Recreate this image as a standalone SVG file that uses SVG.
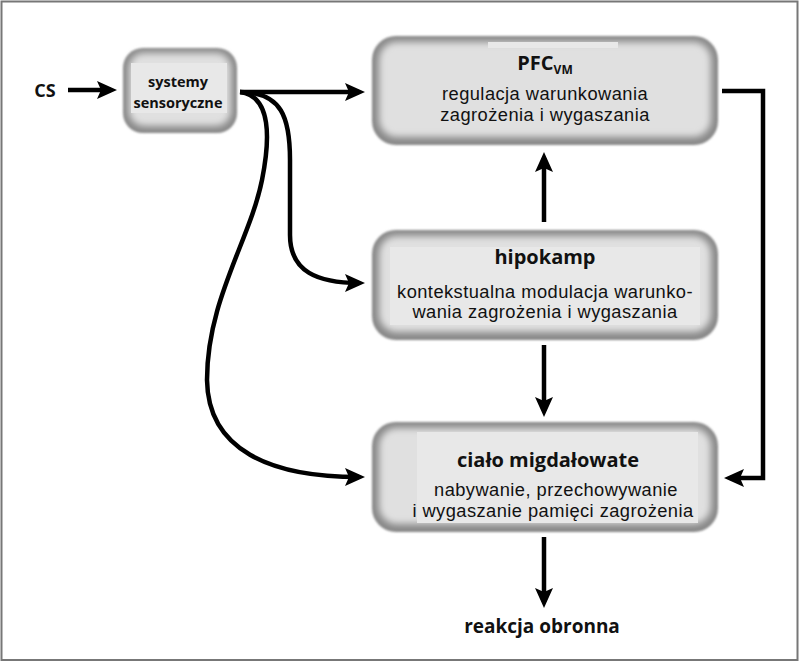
<svg xmlns="http://www.w3.org/2000/svg" width="800" height="663" viewBox="0 0 800 663">
<defs>
<style>
.t{font-family:"Open Sans","Liberation Sans",sans-serif;fill:#111;text-anchor:middle}
.b{font-weight:bold}
.r{font-family:"Liberation Sans",Arial,sans-serif;font-size:18.3px;letter-spacing:0.45px}
.ti{font-size:20px;font-weight:bold}
.ln{fill:none;stroke:#000;stroke-width:4.5;marker-end:url(#ah)}
.edge{fill:#888;filter:url(#soft)}
.core{fill:#e0e0e0;filter:url(#blur)}
.hl{fill:#e8e8e8}
</style>
<filter id="blur" x="-10%" y="-20%" width="120%" height="140%"><feGaussianBlur stdDeviation="3.5"/></filter>
<filter id="soft" x="-10%" y="-20%" width="120%" height="140%"><feGaussianBlur stdDeviation="0.8"/></filter>
<marker id="ah" viewBox="0 0 20 18" refX="14" refY="9" markerWidth="20" markerHeight="18" orient="auto" markerUnits="userSpaceOnUse"><path d="M0,0 L20,9 L0,18 L4,9 z" fill="#000"/></marker>
</defs>
<rect x="0" y="0" width="800" height="663" fill="#fff"/>
<rect x="1.5" y="1.5" width="796" height="658.5" fill="#fff" stroke="#777" stroke-width="2"/>

<g id="cs"><text class="t b" x="45" y="97" font-size="18">CS</text></g>

<g id="sensory">
<rect class="edge" x="123" y="48" width="114" height="85" rx="20"/>
<rect class="core" x="129" y="53" width="102" height="73" rx="15"/>
<rect class="hl" x="131" y="63" width="96" height="50"/>
<text class="t b" x="178" y="87" font-size="14.5">systemy</text>
<text class="t b" x="178" y="108" font-size="14.5">sensoryczne</text>
</g>

<g id="pfc">
<rect class="edge" x="372" y="36" width="346" height="109" rx="24"/>
<rect class="core" x="379" y="42" width="332" height="95" rx="18"/>
<rect class="hl" x="488" y="42" width="130" height="6"/>
<text class="t ti" x="545" y="70">PFC<tspan font-size="12" dy="4">VM</tspan></text>
<text class="t r" x="545" y="100">regulacja warunkowania</text>
<text class="t r" x="545" y="120.5">zagrożenia i wygaszania</text>
</g>

<g id="hipokamp">
<rect class="edge" x="372" y="230" width="346" height="110" rx="24"/>
<rect class="core" x="379" y="236" width="332" height="96" rx="18"/>
<rect class="hl" x="390" y="247" width="310" height="78"/>
<text class="t ti" x="545" y="264">hipokamp</text>
<text class="t r" x="545" y="297.5">kontekstualna modulacja warunko-</text>
<text class="t r" x="545" y="318">wania zagrożenia i wygaszania</text>
</g>

<g id="amygdala">
<rect class="edge" x="372" y="422" width="346" height="110" rx="24"/>
<rect class="core" x="379" y="428" width="332" height="96" rx="18"/>
<rect class="hl" x="417" y="432" width="281" height="91"/>
<text class="t ti" x="548" y="467">ciało migdałowate</text>
<text class="t r" x="556" y="496">nabywanie, przechowywanie</text>
<text class="t r" x="553" y="516.5">i wygaszanie pamięci zagrożenia</text>
</g>

<g id="reakcja"><text class="t b" x="542" y="633" font-size="19">reakcja obronna</text></g>

<g id="connectors">
<path class="ln" d="M68 90 H111"/>
<path class="ln" d="M240 92 H359"/>
<path class="ln" d="M240 92 C282 92 290 118 290 160 L290 235 C290 272 318 283 359 283"/>
<path class="ln" d="M240 92 C272 96 270 140 262 180 C250 240 207 300 207 380 C208 450 270 477 359 477"/>
<path class="ln" d="M544 222 V158"/>
<path class="ln" d="M544 345 V411"/>
<path class="ln" d="M544 537 V602"/>
<path class="ln" d="M722 91 H763 V478 H730"/>
</g>
</svg>
